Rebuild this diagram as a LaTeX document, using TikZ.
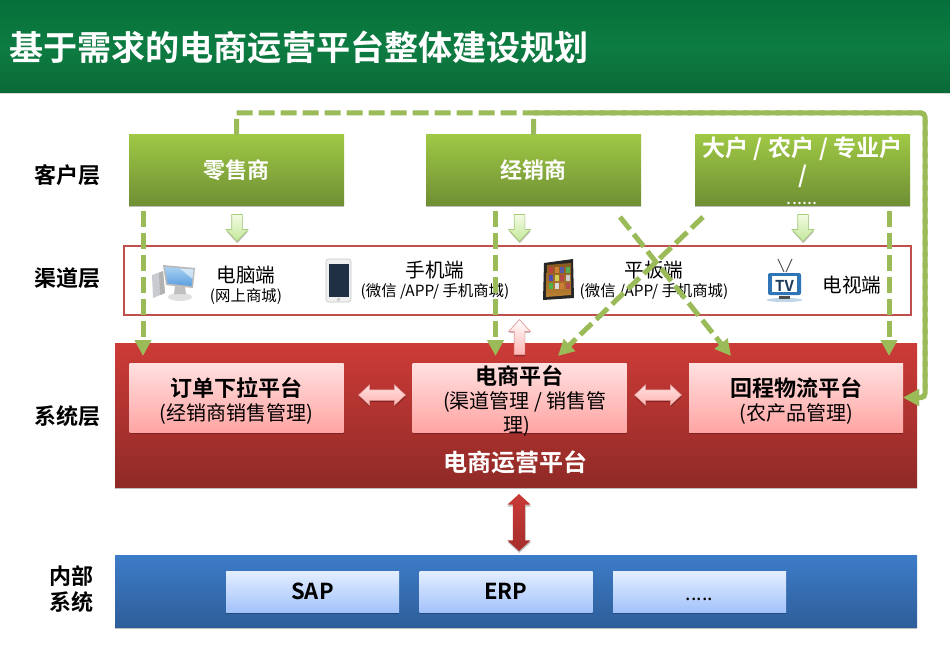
\documentclass[tikz,border=0pt]{standalone}
\usepackage{fontspec}
\setmainfont{Noto Sans CJK SC}[BoldFont=* Bold]
\usetikzlibrary{arrows.meta,shadows,shapes.arrows}
\definecolor{conn}{HTML}{9BBB59}
\definecolor{custtop}{HTML}{9FC845}\definecolor{custbot}{HTML}{6F8F34}
\definecolor{pinktop}{HTML}{FFE0E0}\definecolor{pinkbot}{HTML}{FFA5A3}
\definecolor{paletop}{HTML}{E4EEFF}\definecolor{palebot}{HTML}{A3C3FB}
\definecolor{grnedge}{HTML}{A8CC78}\definecolor{grntop}{HTML}{F4FBE4}\definecolor{grnbot}{HTML}{C2E89A}
\definecolor{pinkedge}{HTML}{E39A98}\definecolor{pinkarrow}{HTML}{FFB4B2}
\definecolor{darkredtop}{HTML}{C93A37}\definecolor{darkredbot}{HTML}{A52E2B}
\definecolor{bandtop}{HTML}{06703A}\definecolor{bandmid}{HTML}{0D7C42}\definecolor{bandbot}{HTML}{0A6B38}
\definecolor{chanedge}{HTML}{C0504D}
\definecolor{systop}{HTML}{CD3B37}\definecolor{sysbot}{HTML}{8F2A27}
\definecolor{bluetop}{HTML}{3D7CC9}\definecolor{bluebot}{HTML}{2E5E9A}
\definecolor{towergrey}{HTML}{C8CCD0}
\definecolor{screentop}{HTML}{A8D0F0}\definecolor{screenbot}{HTML}{5C9FE0}
\definecolor{phonescreen}{HTML}{1F3044}
\definecolor{woodtop}{HTML}{8A5A20}\definecolor{woodbot}{HTML}{B98030}
\definecolor{tvblue}{HTML}{2F74B5}\definecolor{tvnavy}{HTML}{1C3A5C}
\tikzset{
  softshadow/.style={drop shadow={shadow xshift=0.3pt,shadow yshift=-1.8pt,opacity=.25,fill=black}},
  box/.style={rectangle,inner sep=0pt,minimum width=#1,softshadow},
  custbox/.style={box=215pt,minimum height=70pt,top color=custtop,bottom color=custbot,text=white,font=\fontsize{22}{24}\selectfont\bfseries},
  redbox/.style={box=214pt,minimum height=69pt,top color=pinktop,bottom color=pinkbot},
  redtext/.style={inner sep=0pt,text=black,align=center,font=\fontsize{20}{24}\selectfont},
  bluebox/.style={box=173pt,minimum height=41pt,top color=paletop,bottom color=palebot,text=black,font=\fontsize{22}{24}\selectfont\bfseries},
  layer/.style={inner sep=0pt,align=center,font=\fontsize{22}{26}\selectfont\bfseries},
  chan/.style={inner sep=0pt,align=center,font=\fontsize{19.6}{20}\selectfont},
  dashconn/.style={draw=conn,line width=5pt,dash pattern=on 16pt off 6pt,-{Triangle[length=16pt,width=16pt]}},
  arrowbase/.style={inner sep=5pt,single arrow,single arrow tip angle=85,softshadow},
  downarrow/.style={arrowbase,shape border rotate=270,minimum height=27pt,minimum width=21pt,single arrow head extend=5.5pt,draw=grnedge,line width=.7pt,top color=grntop,bottom color=grnbot},
  uparrow/.style={arrowbase,shape border rotate=90,minimum height=35pt,minimum width=21pt,single arrow head extend=5.5pt,draw=pinkedge,line width=.7pt,top color=white,bottom color=pinkarrow},
  hdouble/.style={inner sep=5pt,double arrow,double arrow tip angle=85,minimum height=47pt,minimum width=20pt,double arrow head extend=5pt,draw=pinkedge,line width=.5pt,top color=pinktop,bottom color=pinkarrow,softshadow},
  vdouble/.style={inner sep=6pt,double arrow,double arrow tip angle=95,shape border rotate=90,minimum height=57pt,minimum width=23pt,double arrow head extend=5.5pt,top color=darkredtop,bottom color=darkredbot,softshadow},
}
\begin{document}
\begin{tikzpicture}[x=1pt,y=-1pt]
\useasboundingbox (0,0) rectangle (950,658);
\fill[white] (0,0) rectangle (950,658);

% title band
\node[rectangle,inner sep=0pt,minimum width=950pt,minimum height=92pt,anchor=north west,
  top color=bandtop,bottom color=bandbot,middle color=bandmid,drop shadow={shadow xshift=0pt,shadow yshift=-1.5pt,opacity=.15,fill=black}] (band) at (0,0) {};
\node[anchor=west,inner sep=0pt,text=white,font=\fontsize{34.1}{36}\selectfont\bfseries] (title) at (9,47) {基于需求的电商运营平台整体建设规划};

% layer labels
\node[layer] (L1) at (67,175) {客户层};
\node[layer] (L2) at (67,278) {渠道层};
\node[layer] (L3) at (67,416) {系统层};
\node[layer] (L4) at (71,589) {内部\\系统};

% customers
\node[custbox] (retail) at (236.5,170) {零售商};
\node[custbox] (dealer) at (533.5,170) {经销商};
\node[custbox] (big) at (802.5,170) {};
\node[inner sep=0pt,align=center,text=white,font=\fontsize{23}{27}\selectfont\bfseries] (bigt) at (802.5,162) {大户 / 农户 / 专业户\\/};
\node[inner sep=0pt,anchor=base,text=white,font=\fontsize{18}{18}\selectfont] (bigd) at (802,204) {......};

% channel layer
\node[rectangle,draw=chanedge,line width=2pt,minimum width=787pt,minimum height=69pt,inner sep=0pt,fill=white] (channel) at (517,280.5) {};

% computer icon
\fill[towergrey] (152,275) -- (163,271) -- (165,293) -- (153,298) -- cycle;
\fill[gray!60] (159,273) -- (163,271) -- (165,293) -- (160,295) -- cycle;
\fill[gray!25] (180,297) ellipse [x radius=12,y radius=4];
\fill[gray!50] (175,286) -- (185,287) -- (186,294) -- (174,294) -- cycle;
\fill[gray!55] (163,265) -- (195,268) -- (193,288) -- (166,285) -- cycle;
\shade[top color=screentop,bottom color=screenbot] (165,267) -- (193.5,269.5) -- (191.5,286) -- (167.5,283.5) -- cycle;
\fill[white,opacity=.55] (180,268.5) -- (193.5,269.5) -- (192.5,279) -- cycle;

% phone icon
\fill[gray!12,draw=gray!45,line width=.6pt,rounded corners=2.5pt] (326,259) rectangle (351,302);
\fill[phonescreen] (328.5,263.5) rectangle (348.7,296.7);
\draw[gray!60,line width=.5pt] (338.5,299.4) circle [radius=1.3];

% tablet icon
\fill[black!85] (544,263) -- (573,259) -- (574,298) -- (543,300) -- cycle;
\shade[top color=woodtop,bottom color=woodbot] (547,265) -- (571,263) -- (571,295) -- (546,297) -- cycle;
\foreach \yy/\ca/\cb/\cc/\cd in {267/red!50!gray/orange!60!gray/blue!30!gray/green!35!gray,
                                 275/blue!40!gray/yellow!60!gray/red!45!gray/gray!40,
                                 283/green!40!gray/gray!30/orange!60!gray/red!40!gray}{
  \foreach \xx/\tone in {549/\ca,554.5/\cb,560/\cc,565.5/\cd}{
    \fill[\tone] (\xx,\yy) rectangle ++(4,5.5);
  }
}

% tv icon
\draw[gray!60!black,line width=.9pt] (778,259) -- (784,272) (792,259) -- (786,272);
\fill[tvblue!30] (784.5,300) ellipse [x radius=18,y radius=2];
\fill[black!70] (779,296) rectangle (790,299);
\fill[tvblue,rounded corners=2pt] (768,273) rectangle (801,295);
\fill[white] (772,276) rectangle (797,292);
\node[inner sep=0pt,text=tvnavy,font=\fontsize{15}{15}\selectfont\bfseries] (tvt) at (784.5,285.5) {TV};

% channel labels
\node[chan] (c1) at (246,285) {电脑端\\[-1pt]{\fontsize{15.4}{16}\selectfont (网上商城)}};
\node[chan] (c2) at (435,280) {手机端\\[-1pt]{\fontsize{15.4}{16}\selectfont (微信 /APP/ 手机商城)}};
\node[chan] (c3) at (654,280) {平板端\\[-1pt]{\fontsize{15.4}{16}\selectfont (微信 /APP/ 手机商城)}};
\node[chan] (c4) at (852,285) {电视端};

% system layer
\node[rectangle,inner sep=0pt,minimum width=802pt,minimum height=144pt,top color=systop,bottom color=sysbot,softshadow] (sys) at (516,415) {};
\node[redbox] (order) at (236.5,397.5) {};
\node[redbox] (mall) at (519.5,397.5) {};
\node[redbox] (back) at (796,397.5) {};
\node[redtext] (ordert) at (236.5,400.5) {{\fontsize{22}{24}\selectfont\bfseries 订单下拉平台}\\(经销商销售管理)};
\node[redtext] (mallt) at (519.5,400.5) {{\fontsize{22}{24}\selectfont\bfseries 电商平台}\\\hspace*{11pt}(渠道管理 / 销售管\\\hspace*{-6pt}理)};
\node[redtext] (backt) at (796,400.5) {{\fontsize{22}{24}\selectfont\bfseries 回程物流平台}\\(农产品管理)};
\node[inner sep=0pt,text=white,font=\fontsize{24}{26}\selectfont\bfseries] (syst) at (515,462) {电商运营平台};

% internal systems
\node[rectangle,inner sep=0pt,minimum width=802pt,minimum height=72pt,top color=bluetop,bottom color=bluebot,softshadow] (inner) at (516,591) {};
\node[bluebox] (sap) at (312.5,591.5) {SAP};
\node[bluebox] (erp) at (506,591.5) {ERP};
\node[bluebox] (more) at (699.5,591.5) {};
\node[inner sep=0pt,anchor=base,font=\fontsize{19.6}{20}\selectfont] (moret) at (699.5,600) {.....};

% block arrows
\node[downarrow] (da1) at (237,225) {};
\node[downarrow] (da2) at (519.5,225) {};
\node[downarrow] (da3) at (803,225) {};
\node[uparrow] (ua) at (519.5,340) {};
\node[hdouble] (h1) at (382,395) {};
\node[hdouble] (h2) at (658,395) {};
\node[vdouble] (v1) at (519,522.5) {};

% connector ends
\coordinate (s1) at (143,211); \coordinate (e1) at (143,356);
\coordinate (s2) at (495.5,211); \coordinate (e2) at (495.5,356);
\coordinate (s3) at (889,211); \coordinate (e3) at (889,356);
\coordinate (s4) at (620,217); \coordinate (e4) at (731,356);
\coordinate (s5) at (703,217); \coordinate (e5) at (558,356);
\coordinate (tr) at (925,113);

\draw[dashconn] (s1) -- (e1);
\draw[dashconn] (s2) -- (e2);
\draw[dashconn] (s3) -- (e3);
\draw[dashconn] (s4) -- (e4);
\draw[dashconn] (s5) -- (e5);
\draw[dashconn] (retail.north) -- (retail.north |- tr) [rounded corners=4pt] -- (tr) -- (tr |- back.east) -- (back.east);
\draw[dashconn] (dealer.north) -- (dealer.north |- tr) [rounded corners=4pt] -- (tr) -- (tr |- back.east) -- (back.east);
\end{tikzpicture}
\end{document}
